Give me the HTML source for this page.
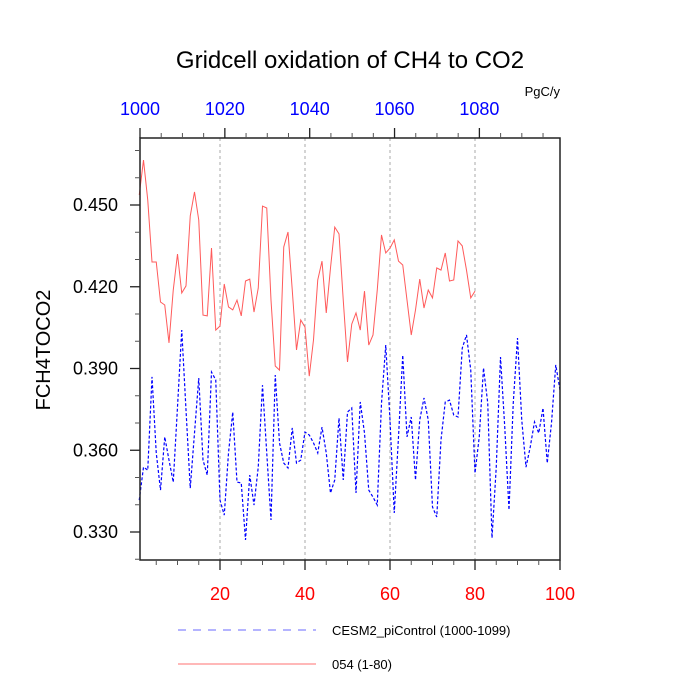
<!DOCTYPE html>
<html><head><meta charset="utf-8"><style>
body{margin:0;background:#fff;}
svg{display:block;font-family:"Liberation Sans",Arial,sans-serif;}
</style></head><body>
<svg id="chart" width="700" height="700">
<text x="350" y="68" text-anchor="middle" font-size="24">Gridcell oxidation of CH4 to CO2</text>
<text x="560" y="96" text-anchor="end" font-size="13">PgC/y</text>
<text transform="translate(50,350) rotate(-90)" text-anchor="middle" font-size="20">FCH4TOCO2</text>
<g id="grid"></g>
<g id="series"></g>
<rect x="140" y="138" width="420" height="422" fill="none" stroke="#222" stroke-width="1.5"/>
<g id="axes"></g>
<g>
<line x1="178" y1="630" x2="316" y2="630" stroke="#6a6aff" stroke-width="1" stroke-dasharray="8,7"/>
<text x="332" y="635" font-size="13">CESM2_piControl (1000-1099)</text>
<line x1="178" y1="664" x2="316" y2="664" stroke="#ff7070" stroke-width="1"/>
<text x="332" y="669" font-size="13">054 (1-80)</text>
</g>
</svg>
<script>
const blueValues=[.3417,.3538,.3527,.3869,.3590,.3454,.3649,.3564,.3483,.3759,.4041,.3748,.3461,.3663,.3865,.3564,.3509,.3887,.3858,.3417,.3362,.3590,.3740,.3483,.3480,.3271,.3509,.3399,.3538,.3839,.3590,.3344,.3876,.3627,.3553,.3535,.3682,.3553,.3564,.3667,.3656,.3627,.3590,.3685,.3590,.3443,.3491,.3718,.3491,.3740,.3755,.3443,.3777,.3663,.3454,.3428,.3399,.3773,.3986,.3711,.3370,.3649,.3949,.3649,.3722,.3491,.3711,.3792,.3711,.3392,.3355,.3638,.3777,.3784,.3729,.3722,.3975,.4023,.3894,.3516,.3649,.3902,.3773,.3278,.3538,.3942,.3685,.3381,.3773,.4012,.3711,.3538,.3612,.3704,.3663,.3755,.3553,.3700,.3913,.3821];
const redValues=[.4537,.4665,.4518,.4291,.4291,.4144,.4133,.3994,.4188,.4320,.4177,.4203,.4460,.4548,.4445,.4096,.4093,.4342,.4041,.4056,.4210,.4126,.4115,.4151,.4093,.4221,.4228,.4107,.4195,.4496,.4489,.4151,.3909,.3894,.4346,.4401,.4188,.3968,.4078,.4052,.3872,.4005,.4225,.4294,.4104,.4269,.4419,.4394,.4151,.3924,.4063,.4104,.4041,.4184,.3986,.4023,.4188,.4390,.4324,.4342,.4372,.4294,.4280,.4151,.4023,.4115,.4228,.4122,.4188,.4159,.4269,.4261,.4324,.4221,.4225,.4368,.4350,.4261,.4159,.4184];
const yTickLabels=["0.330","0.360","0.390","0.420","0.450"];
const yTickValues=[0.33,0.36,0.39,0.42,0.45];
const xTickValues=[20,40,60,80,100];
const topTickLabels=["1000","1020","1040","1060","1080"];
const topTickYears=[1000,1020,1040,1060,1080];

const NS="http://www.w3.org/2000/svg";
const X0=140,X1=560,Y0=138,Y1=560;
function xs(i){return 560-(100-i)*4.25;}
function ys(v){return 205-(v-0.45)/0.03*81.75;}
function yr(y){return 140+(y-1000)*4.2424;}
function mk(tag,attrs,parent){const e=document.createElementNS(NS,tag);for(const k in attrs)e.setAttribute(k,attrs[k]);parent.appendChild(e);return e;}
const grid=document.getElementById('grid'),axes=document.getElementById('axes'),ser=document.getElementById('series');

xTickValues.forEach((v,i)=>{
  if(v<100){const g=mk('line',{x1:xs(v),x2:xs(v),y1:Y0,y2:Y1,stroke:'#aaa','stroke-width':1,'stroke-dasharray':'3,3'},grid);
  
  }
  const t=mk('line',{x1:xs(v),x2:xs(v),y1:Y1,y2:Y1+10,stroke:'#222','stroke-width':1.3},axes);
  
  
  const l=mk('text',{x:xs(v),y:600,'text-anchor':'middle','font-size':18,fill:'#ff0000'},axes);
  l.textContent=v;
  
  
});
for(let v=5;v<100;v+=5){if(v%20===0)continue;
  const t=mk('line',{x1:xs(v),x2:xs(v),y1:Y1,y2:Y1+5,stroke:'#555','stroke-width':1},axes);
  
  }
topTickYears.forEach((y,i)=>{
  const t=mk('line',{x1:yr(y),x2:yr(y),y1:Y0,y2:Y0-10,stroke:'#222','stroke-width':1.3},axes);
  
  
  const l=mk('text',{x:yr(y),y:115,'text-anchor':'middle','font-size':18,fill:'#0000ff'},axes);
  l.textContent=topTickLabels[i];
  
  
});
for(let y=1005;y<1100;y+=5){if(y%20===0)continue;
  const t=mk('line',{x1:yr(y),x2:yr(y),y1:Y0,y2:Y0-5,stroke:'#555','stroke-width':1},axes);
  
  }
yTickValues.forEach((v,i)=>{
  const t=mk('line',{x1:X0,x2:X0-10,y1:ys(v),y2:ys(v),stroke:'#222','stroke-width':1.3},axes);
  
  
  const l=mk('text',{x:118,y:ys(v)+6,'text-anchor':'end','font-size':18},axes);
  l.textContent=yTickLabels[i];
  
  
});
for(let k=32;k<=47;k++){const v=k/100;if(k%3===0)continue;
  const t=mk('line',{x1:X0,x2:X0-5,y1:ys(v),y2:ys(v),stroke:'#555','stroke-width':1},axes);
  
  }

const bp=mk('polyline',{points:blueValues.map((v,i)=>xs(i+1)+','+ys(v)).join(' '),fill:'none',stroke:'#0000ff','stroke-width':1.2,'stroke-dasharray':'3,2'},ser);


const rp=mk('polyline',{points:redValues.map((v,i)=>xs(i+1)+','+ys(v)).join(' '),fill:'none',stroke:'#ff5a5a','stroke-width':1},ser);


</script>
</body></html>
